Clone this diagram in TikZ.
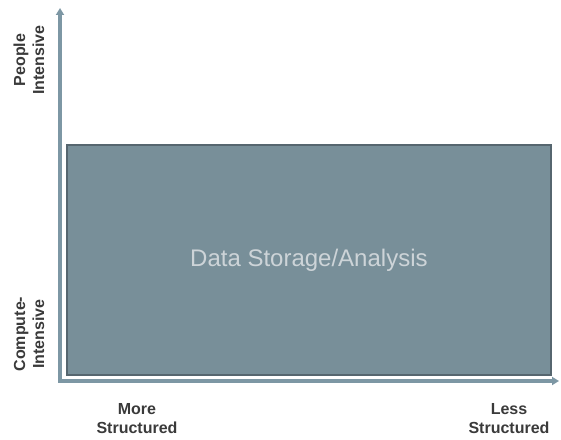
\documentclass[tikz,border=0pt]{standalone}
\usepackage{fontspec}
\setmainfont{Liberation Sans}
\usetikzlibrary{arrows.meta,positioning}

\definecolor{axisblue}{HTML}{7D97A4}
\definecolor{boxfill}{HTML}{788F99}
\definecolor{boxline}{HTML}{56666F}
\definecolor{boxtext}{HTML}{CDD4D8}
\definecolor{labelgray}{HTML}{3A3A3A}

\begin{document}
\begin{tikzpicture}[x=1pt, y=1pt, >={Triangle[length=7pt,width=8pt]},
    axislabel/.style={font=\fontsize{16}{19}\selectfont\bfseries, text=labelgray, align=center, inner sep=0pt},
    sidelabel/.style={axislabel, rotate=90}]

  \useasboundingbox (0,0) rectangle (561,439);

  % axes
  \coordinate (origin) at (60,58);
  \coordinate (ytop)   at (60,431);
  \coordinate (xend)   at (559,58);
  \draw[axisblue, line width=3.5pt, <->] (ytop) |- (xend);

  % the box
  \node[draw=boxline, line width=1.8pt, fill=boxfill, minimum width=484pt, minimum height=230pt,
        font=\fontsize{24}{28}\selectfont, text=boxtext, anchor=south west] (store) at (66,63) {Data Storage/Analysis};

  % labels
  \node[sidelabel] (people)  at (29,379) {People\\Intensive};
  \node[sidelabel] (compute) at (29,105) {Compute-\\Intensive};
  \node[axislabel] (more) at (137,20) {More\\Structured};
  \node[axislabel] (less) at (509,20) {Less\\Structured};

\end{tikzpicture}
\end{document}
